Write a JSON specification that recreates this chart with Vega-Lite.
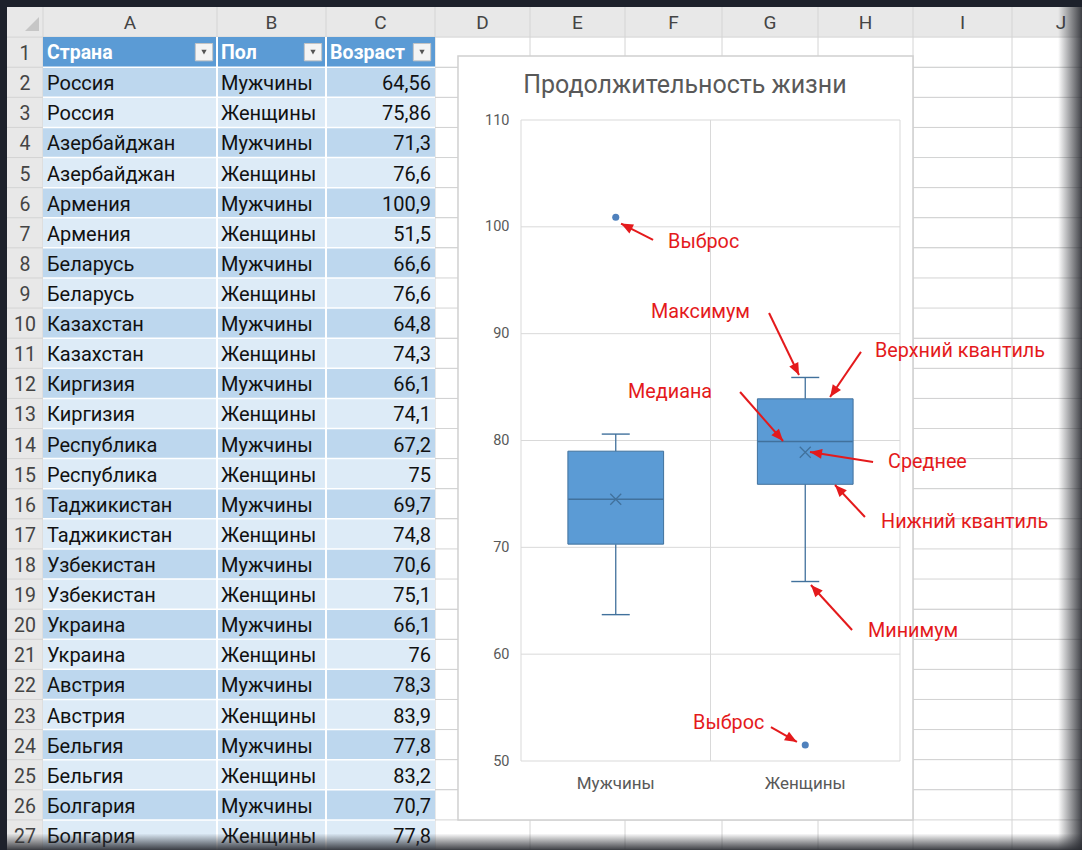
{
  "$schema": "https://vega.github.io/schema/vega-lite/v6.json",
  "width": 379,
  "height": 641,
  "autosize": {"type": "none"},
  "padding": {"left": 521, "top": 120, "right": 182, "bottom": 89},
  "background": "#1d212b",
  "config": {
    "font": "Roboto",
    "view": {"stroke": null},
    "axis": {"domain": false, "ticks": false, "grid": false, "labelFont": "Roboto", "labelColor": "#595959"},
    "locale": {"number": {"decimal": ",", "thousands": " ", "grouping": [3], "currency": ["", " ₽"]}}
  },
  "datasets": {
    "rows": [{"row":0},{"row":1},{"row":2},{"row":3},{"row":4},{"row":5},{"row":6},{"row":7},{"row":8},{"row":9},{"row":10},{"row":11},{"row":12},{"row":13},{"row":14},{"row":15},{"row":16},{"row":17},{"row":18},{"row":19},{"row":20},{"row":21},{"row":22},{"row":23},{"row":24},{"row":25},{"row":26},{"row":27}],
    "cols": [
      {"col":"A","l":1,"r":2,"name":"Страна"},
      {"col":"B","l":2,"r":3,"name":"Пол"},
      {"col":"C","l":3,"r":4,"name":"Возраст"},
      {"col":"D","l":4,"r":5},
      {"col":"E","l":5,"r":6},
      {"col":"F","l":6,"r":7},
      {"col":"G","l":7,"r":8},
      {"col":"H","l":8,"r":9},
      {"col":"I","l":9,"r":10},
      {"col":"J","l":10,"r":11}
    ],
    "table": [
      {"row":2,"Страна":"Россия","Пол":"Мужчины","Возраст":64.56},
      {"row":3,"Страна":"Россия","Пол":"Женщины","Возраст":75.86},
      {"row":4,"Страна":"Азербайджан","Пол":"Мужчины","Возраст":71.3},
      {"row":5,"Страна":"Азербайджан","Пол":"Женщины","Возраст":76.6},
      {"row":6,"Страна":"Армения","Пол":"Мужчины","Возраст":100.9},
      {"row":7,"Страна":"Армения","Пол":"Женщины","Возраст":51.5},
      {"row":8,"Страна":"Беларусь","Пол":"Мужчины","Возраст":66.6},
      {"row":9,"Страна":"Беларусь","Пол":"Женщины","Возраст":76.6},
      {"row":10,"Страна":"Казахстан","Пол":"Мужчины","Возраст":64.8},
      {"row":11,"Страна":"Казахстан","Пол":"Женщины","Возраст":74.3},
      {"row":12,"Страна":"Киргизия","Пол":"Мужчины","Возраст":66.1},
      {"row":13,"Страна":"Киргизия","Пол":"Женщины","Возраст":74.1},
      {"row":14,"Страна":"Республика","Пол":"Мужчины","Возраст":67.2},
      {"row":15,"Страна":"Республика","Пол":"Женщины","Возраст":75},
      {"row":16,"Страна":"Таджикистан","Пол":"Мужчины","Возраст":69.7},
      {"row":17,"Страна":"Таджикистан","Пол":"Женщины","Возраст":74.8},
      {"row":18,"Страна":"Узбекистан","Пол":"Мужчины","Возраст":70.6},
      {"row":19,"Страна":"Узбекистан","Пол":"Женщины","Возраст":75.1},
      {"row":20,"Страна":"Украина","Пол":"Мужчины","Возраст":66.1},
      {"row":21,"Страна":"Украина","Пол":"Женщины","Возраст":76},
      {"row":22,"Страна":"Австрия","Пол":"Мужчины","Возраст":78.3},
      {"row":23,"Страна":"Австрия","Пол":"Женщины","Возраст":83.9},
      {"row":24,"Страна":"Бельгия","Пол":"Мужчины","Возраст":77.8},
      {"row":25,"Страна":"Бельгия","Пол":"Женщины","Возраст":83.2},
      {"row":26,"Страна":"Болгария","Пол":"Мужчины","Возраст":70.7},
      {"row":27,"Страна":"Болгария","Пол":"Женщины","Возраст":77.8}
    ],
    "stats": [
      {"Пол":"Мужчины","min":63.7,"q1":70.3,"median":74.5,"q3":79.0,"max":80.6,"mean":74.5},
      {"Пол":"Женщины","min":66.8,"q1":75.9,"median":79.9,"q3":83.9,"max":85.9,"mean":78.9}
    ],
    "outliers": [
      {"Пол":"Мужчины","Возраст":100.9},
      {"Пол":"Женщины","Возраст":51.5}
    ],
    "ticks": [{"v":50},{"v":60},{"v":70},{"v":80},{"v":90},{"v":100},{"v":110}],
    "annot": [
      {"label":"Выброс","tx":0.776,"ty":98.58,"x":0.697,"y":98.77,"x2":0.528,"y2":100.31},
      {"label":"Максимум","tx":0.686,"ty":92.03,"x":1.309,"y":91.94,"x2":1.467,"y2":86.13},
      {"label":"Верхний квантиль","tx":1.868,"ty":88.38,"x":1.794,"y":88.29,"x2":1.631,"y2":84.07},
      {"label":"Медиана","tx":0.565,"ty":84.54,"x":1.156,"y":84.54,"x2":1.383,"y2":79.95},
      {"label":"Среднее","tx":1.937,"ty":77.99,"x":1.858,"y":77.99,"x2":1.525,"y2":78.93},
      {"label":"Нижний квантиль","tx":1.9,"ty":72.37,"x":1.815,"y":72.84,"x2":1.657,"y2":75.84},
      {"label":"Минимум","tx":1.831,"ty":62.17,"x":1.747,"y":62.26,"x2":1.53,"y2":66.47},
      {"label":"Выброс","tx":0.908,"ty":53.56,"x":1.319,"y":53.18,"x2":1.456,"y2":51.78}
    ],
    "titles": [{"title":"Продолжительность жизни"}]
  },
  "resolve": {"scale": {"x": "independent", "y": "independent"}},
  "layer": [
    {
      "layer": [
        {"data":{"name":"rows"},"mark":{"type":"rect","fill":"#ffffff"},
         "encoding":{"x":{"datum":0,"type":"quantitative","scale":{"domain":[0,1,2,3,4,5,6,7,8,9,10,11],"range":[-514,-478,-304,-195,-86,9,104,201,297,392,491,589],"zero":false,"nice":false},"axis":null},"x2":{"datum":11},
                     "y":{"field":"row","type":"ordinal","scale":{"type":"band","domain":[0,1,2,3,4,5,6,7,8,9,10,11,12,13,14,15,16,17,18,19,20,21,22,23,24,25,26,27],"range":[-113,730],"paddingInner":0,"paddingOuter":0},"axis":null}}},
        {"data":{"name":"rows"},"transform":[{"filter":"datum.row == 0"}],"mark":{"type":"rect","fill":"#e8e8e8"},
         "encoding":{"x":{"datum":0,"type":"quantitative","scale":{"domain":[0,1,2,3,4,5,6,7,8,9,10,11],"range":[-514,-478,-304,-195,-86,9,104,201,297,392,491,589],"zero":false,"nice":false},"axis":null},"x2":{"datum":11},
                     "y":{"field":"row","type":"ordinal","scale":{"type":"band","domain":[0,1,2,3,4,5,6,7,8,9,10,11,12,13,14,15,16,17,18,19,20,21,22,23,24,25,26,27],"range":[-113,730],"paddingInner":0,"paddingOuter":0},"axis":null}}},
        {"data":{"name":"rows"},"transform":[{"filter":"datum.row > 0"}],"mark":{"type":"rect","fill":"#e8e8e8"},
         "encoding":{"x":{"datum":0,"type":"quantitative","scale":{"domain":[0,1,2,3,4,5,6,7,8,9,10,11],"range":[-514,-478,-304,-195,-86,9,104,201,297,392,491,589],"zero":false,"nice":false},"axis":null},"x2":{"datum":1},
                     "y":{"field":"row","type":"ordinal","scale":{"type":"band","domain":[0,1,2,3,4,5,6,7,8,9,10,11,12,13,14,15,16,17,18,19,20,21,22,23,24,25,26,27],"range":[-113,730],"paddingInner":0,"paddingOuter":0},"axis":null}}},
        {"data":{"name":"rows"},"mark":{"type":"rule","stroke":"#d4d4d4","strokeWidth":1},
         "encoding":{"x":{"datum":0,"type":"quantitative","scale":{"domain":[0,1,2,3,4,5,6,7,8,9,10,11],"range":[-514,-478,-304,-195,-86,9,104,201,297,392,491,589],"zero":false,"nice":false},"axis":null},"x2":{"datum":11},
                     "y":{"field":"row","type":"ordinal","bandPosition":1,"scale":{"type":"band","domain":[0,1,2,3,4,5,6,7,8,9,10,11,12,13,14,15,16,17,18,19,20,21,22,23,24,25,26,27],"range":[-113,730],"paddingInner":0,"paddingOuter":0},"axis":null}}},
        {"data":{"name":"cols"},"mark":{"type":"rule","stroke":"#d4d4d4","strokeWidth":1},
         "encoding":{"x":{"field":"l","type":"quantitative","scale":{"domain":[0,1,2,3,4,5,6,7,8,9,10,11],"range":[-514,-478,-304,-195,-86,9,104,201,297,392,491,589],"zero":false,"nice":false},"axis":null},
                     "y":{"datum":0,"type":"ordinal","bandPosition":0,"scale":{"type":"band","domain":[0,1,2,3,4,5,6,7,8,9,10,11,12,13,14,15,16,17,18,19,20,21,22,23,24,25,26,27],"range":[-113,730],"paddingInner":0,"paddingOuter":0},"axis":null},
                     "y2":{"datum":27,"bandPosition":1}}},
        {"data":{"name":"table"},"mark":{"type":"rect"},
         "encoding":{"x":{"datum":1,"type":"quantitative","scale":{"domain":[0,1,2,3,4,5,6,7,8,9,10,11],"range":[-514,-478,-304,-195,-86,9,104,201,297,392,491,589],"zero":false,"nice":false},"axis":null},"x2":{"datum":4},
                     "y":{"field":"row","type":"ordinal","scale":{"type":"band","domain":[0,1,2,3,4,5,6,7,8,9,10,11,12,13,14,15,16,17,18,19,20,21,22,23,24,25,26,27],"range":[-113,730],"paddingInner":0,"paddingOuter":0},"axis":null},
                     "color":{"condition":{"test":"datum.row % 2 == 0","value":"#bdd7ee"},"value":"#ddebf7"}}},
        {"data":{"name":"cols"},"transform":[{"filter":"isValid(datum.name)"}],"mark":{"type":"rect","fill":"#5b9bd5"},
         "encoding":{"x":{"field":"l","type":"quantitative","scale":{"domain":[0,1,2,3,4,5,6,7,8,9,10,11],"range":[-514,-478,-304,-195,-86,9,104,201,297,392,491,589],"zero":false,"nice":false},"axis":null},"x2":{"field":"r"},
                     "y":{"datum":1,"type":"ordinal","scale":{"type":"band","domain":[0,1,2,3,4,5,6,7,8,9,10,11,12,13,14,15,16,17,18,19,20,21,22,23,24,25,26,27],"range":[-113,730],"paddingInner":0,"paddingOuter":0},"axis":null}}},
        {"data":{"name":"cols"},"transform":[{"filter":"datum.col == 'B' || datum.col == 'C'"}],"mark":{"type":"rule","stroke":"#ffffff","strokeWidth":2},
         "encoding":{"x":{"field":"l","type":"quantitative","scale":{"domain":[0,1,2,3,4,5,6,7,8,9,10,11],"range":[-514,-478,-304,-195,-86,9,104,201,297,392,491,589],"zero":false,"nice":false},"axis":null},
                     "y":{"datum":1,"type":"ordinal","bandPosition":0,"scale":{"type":"band","domain":[0,1,2,3,4,5,6,7,8,9,10,11,12,13,14,15,16,17,18,19,20,21,22,23,24,25,26,27],"range":[-113,730],"paddingInner":0,"paddingOuter":0},"axis":null},
                     "y2":{"datum":27,"bandPosition":1}}},
        {"data":{"name":"table"},"mark":{"type":"rule","stroke":"#ffffff","strokeWidth":1.5},
         "encoding":{"x":{"datum":1,"type":"quantitative","scale":{"domain":[0,1,2,3,4,5,6,7,8,9,10,11],"range":[-514,-478,-304,-195,-86,9,104,201,297,392,491,589],"zero":false,"nice":false},"axis":null},"x2":{"datum":4},
                     "y":{"field":"row","type":"ordinal","bandPosition":0,"scale":{"type":"band","domain":[0,1,2,3,4,5,6,7,8,9,10,11,12,13,14,15,16,17,18,19,20,21,22,23,24,25,26,27],"range":[-113,730],"paddingInner":0,"paddingOuter":0},"axis":null}}},
        {"data":{"name":"cols"},"transform":[{"filter":"isValid(datum.name)"}],"mark":{"type":"text","align":"left","baseline":"middle","dx":4,"dy":1,"fontSize":19.5,"fontWeight":"bold","fill":"#ffffff"},
         "encoding":{"x":{"field":"l","type":"quantitative","scale":{"domain":[0,1,2,3,4,5,6,7,8,9,10,11],"range":[-514,-478,-304,-195,-86,9,104,201,297,392,491,589],"zero":false,"nice":false},"axis":null},
                     "y":{"datum":1,"type":"ordinal","scale":{"type":"band","domain":[0,1,2,3,4,5,6,7,8,9,10,11,12,13,14,15,16,17,18,19,20,21,22,23,24,25,26,27],"range":[-113,730],"paddingInner":0,"paddingOuter":0},"axis":null},
                     "text":{"field":"name"}}},
        {"data":{"name":"cols"},"transform":[{"filter":"isValid(datum.name)"}],"mark":{"type":"point","shape":"square","size":300,"filled":true,"fill":"#f4f4f4","stroke":"#c4c4c4","strokeWidth":1,"opacity":1,"xOffset":-13},
         "encoding":{"x":{"field":"r","type":"quantitative","scale":{"domain":[0,1,2,3,4,5,6,7,8,9,10,11],"range":[-514,-478,-304,-195,-86,9,104,201,297,392,491,589],"zero":false,"nice":false},"axis":null},
                     "y":{"datum":1,"type":"ordinal","scale":{"type":"band","domain":[0,1,2,3,4,5,6,7,8,9,10,11,12,13,14,15,16,17,18,19,20,21,22,23,24,25,26,27],"range":[-113,730],"paddingInner":0,"paddingOuter":0},"axis":null}}},
        {"data":{"name":"cols"},"transform":[{"filter":"isValid(datum.name)"}],"mark":{"type":"point","shape":"triangle-down","size":28,"filled":true,"fill":"#555555","strokeWidth":0,"opacity":1,"xOffset":-13},
         "encoding":{"x":{"field":"r","type":"quantitative","scale":{"domain":[0,1,2,3,4,5,6,7,8,9,10,11],"range":[-514,-478,-304,-195,-86,9,104,201,297,392,491,589],"zero":false,"nice":false},"axis":null},
                     "y":{"datum":1,"type":"ordinal","scale":{"type":"band","domain":[0,1,2,3,4,5,6,7,8,9,10,11,12,13,14,15,16,17,18,19,20,21,22,23,24,25,26,27],"range":[-113,730],"paddingInner":0,"paddingOuter":0},"axis":null}}},
        {"data":{"name":"table"},"mark":{"type":"text","align":"left","baseline":"middle","dx":4,"dy":2,"fontSize":20,"fill":"#111111"},
         "encoding":{"x":{"datum":1,"type":"quantitative","scale":{"domain":[0,1,2,3,4,5,6,7,8,9,10,11],"range":[-514,-478,-304,-195,-86,9,104,201,297,392,491,589],"zero":false,"nice":false},"axis":null},
                     "y":{"field":"row","type":"ordinal","scale":{"type":"band","domain":[0,1,2,3,4,5,6,7,8,9,10,11,12,13,14,15,16,17,18,19,20,21,22,23,24,25,26,27],"range":[-113,730],"paddingInner":0,"paddingOuter":0},"axis":null},
                     "text":{"field":"Страна"}}},
        {"data":{"name":"table"},"mark":{"type":"text","align":"left","baseline":"middle","dx":4,"dy":2,"fontSize":20,"fill":"#111111"},
         "encoding":{"x":{"datum":2,"type":"quantitative","scale":{"domain":[0,1,2,3,4,5,6,7,8,9,10,11],"range":[-514,-478,-304,-195,-86,9,104,201,297,392,491,589],"zero":false,"nice":false},"axis":null},
                     "y":{"field":"row","type":"ordinal","scale":{"type":"band","domain":[0,1,2,3,4,5,6,7,8,9,10,11,12,13,14,15,16,17,18,19,20,21,22,23,24,25,26,27],"range":[-113,730],"paddingInner":0,"paddingOuter":0},"axis":null},
                     "text":{"field":"Пол"}}},
        {"data":{"name":"table"},"mark":{"type":"text","align":"right","baseline":"middle","dx":-4,"dy":2,"fontSize":20,"fill":"#111111"},
         "encoding":{"x":{"datum":4,"type":"quantitative","scale":{"domain":[0,1,2,3,4,5,6,7,8,9,10,11],"range":[-514,-478,-304,-195,-86,9,104,201,297,392,491,589],"zero":false,"nice":false},"axis":null},
                     "y":{"field":"row","type":"ordinal","scale":{"type":"band","domain":[0,1,2,3,4,5,6,7,8,9,10,11,12,13,14,15,16,17,18,19,20,21,22,23,24,25,26,27],"range":[-113,730],"paddingInner":0,"paddingOuter":0},"axis":null},
                     "text":{"field":"Возраст","type":"quantitative","format":"~r"}}},
        {"data":{"name":"rows"},"transform":[{"filter":"datum.row > 0"}],"mark":{"type":"text","align":"center","baseline":"middle","dy":2,"fontSize":19.5,"fill":"#444444"},
         "encoding":{"x":{"datum":0.5,"type":"quantitative","scale":{"domain":[0,1,2,3,4,5,6,7,8,9,10,11],"range":[-514,-478,-304,-195,-86,9,104,201,297,392,491,589],"zero":false,"nice":false},"axis":null},
                     "y":{"field":"row","type":"ordinal","scale":{"type":"band","domain":[0,1,2,3,4,5,6,7,8,9,10,11,12,13,14,15,16,17,18,19,20,21,22,23,24,25,26,27],"range":[-113,730],"paddingInner":0,"paddingOuter":0},"axis":null},
                     "text":{"field":"row"}}},
        {"data":{"name":"cols"},"transform":[{"fold":["l","r"],"as":["k","v"]},{"aggregate":[{"op":"mean","field":"v","as":"m"}],"groupby":["col"]}],
         "mark":{"type":"text","align":"center","baseline":"middle","dy":1,"fontSize":19,"fill":"#444444"},
         "encoding":{"x":{"field":"m","type":"quantitative","scale":{"domain":[0,1,2,3,4,5,6,7,8,9,10,11],"range":[-514,-478,-304,-195,-86,9,104,201,297,392,491,589],"zero":false,"nice":false},"axis":null},
                     "y":{"datum":0,"type":"ordinal","scale":{"type":"band","domain":[0,1,2,3,4,5,6,7,8,9,10,11,12,13,14,15,16,17,18,19,20,21,22,23,24,25,26,27],"range":[-113,730],"paddingInner":0,"paddingOuter":0},"axis":null},
                     "text":{"field":"col"}}},
        {"data":{"values":[{"corner":"all"}]},"mark":{"type":"point","shape":"M1,-1L1,1L-1,1Z","size":196,"filled":true,"fill":"#c6c6c6","strokeWidth":0,"opacity":1,"xOffset":7,"yOffset":2},
         "encoding":{"x":{"datum":0.5,"type":"quantitative","scale":{"domain":[0,1,2,3,4,5,6,7,8,9,10,11],"range":[-514,-478,-304,-195,-86,9,104,201,297,392,491,589],"zero":false,"nice":false},"axis":null},
                     "y":{"datum":0,"type":"ordinal","scale":{"type":"band","domain":[0,1,2,3,4,5,6,7,8,9,10,11,12,13,14,15,16,17,18,19,20,21,22,23,24,25,26,27],"range":[-113,730],"paddingInner":0,"paddingOuter":0},"axis":null}}},
        {"data":{"values":[{"chart":"box"}]},"mark":{"type":"rect","fill":"#ffffff","stroke":"#d0d0d0","strokeWidth":1.5},
         "encoding":{"x":{"datum":4.242,"type":"quantitative","scale":{"domain":[0,1,2,3,4,5,6,7,8,9,10,11],"range":[-514,-478,-304,-195,-86,9,104,201,297,392,491,589],"zero":false,"nice":false},"axis":null},"x2":{"datum":9},
                     "y":{"datum":1,"type":"ordinal","bandPosition":0.628,"scale":{"type":"band","domain":[0,1,2,3,4,5,6,7,8,9,10,11,12,13,14,15,16,17,18,19,20,21,22,23,24,25,26,27],"range":[-113,730],"paddingInner":0,"paddingOuter":0},"axis":null},
                     "y2":{"datum":27,"bandPosition":0}}},
        {"data":{"values":[{"edge":"right"}]},"mark":{"type":"rect","fill":{"gradient":"linear","x1":0,"y1":0,"x2":1,"y2":0,"stops":[{"offset":0,"color":"rgba(40,42,48,0)"},{"offset":1,"color":"rgba(40,42,48,0.95)"}]}},
         "encoding":{"x":{"datum":10.47,"type":"quantitative","scale":{"domain":[0,1,2,3,4,5,6,7,8,9,10,11],"range":[-514,-478,-304,-195,-86,9,104,201,297,392,491,589],"zero":false,"nice":false},"axis":null},"x2":{"datum":10.73},
                     "y":{"datum":0,"type":"ordinal","bandPosition":0,"scale":{"type":"band","domain":[0,1,2,3,4,5,6,7,8,9,10,11,12,13,14,15,16,17,18,19,20,21,22,23,24,25,26,27],"range":[-113,730],"paddingInner":0,"paddingOuter":0},"axis":null},
                     "y2":{"datum":27,"bandPosition":1}}},
        {"data":{"values":[{"edge":"bottom"}]},"mark":{"type":"rect","fill":{"gradient":"linear","x1":0,"y1":0,"x2":0,"y2":1,"stops":[{"offset":0,"color":"rgba(40,42,48,0)"},{"offset":1,"color":"rgba(40,42,48,0.9)"}]}},
         "encoding":{"x":{"datum":0,"type":"quantitative","scale":{"domain":[0,1,2,3,4,5,6,7,8,9,10,11],"range":[-514,-478,-304,-195,-86,9,104,201,297,392,491,589],"zero":false,"nice":false},"axis":null},"x2":{"datum":10.73},
                     "y":{"datum":27,"type":"ordinal","bandPosition":0.45,"scale":{"type":"band","domain":[0,1,2,3,4,5,6,7,8,9,10,11,12,13,14,15,16,17,18,19,20,21,22,23,24,25,26,27],"range":[-113,730],"paddingInner":0,"paddingOuter":0},"axis":null},
                     "y2":{"datum":27,"bandPosition":1}}}
      ]
    },
    {
      "layer": [
        {"data":{"name":"ticks"},"mark":{"type":"rule","stroke":"#d9d9d9","strokeWidth":1},
         "encoding":{"y":{"field":"v","type":"quantitative","title":null,"scale":{"domain":[50,110],"zero":false,"nice":false},"axis":{"orient":"left","zindex":2,"values":[50,60,70,80,90,100,110],"domain":false,"ticks":false,"grid":false,"labelFontSize":14.5,"labelPadding":12,"labelColor":"#595959"}}}},
        {"data":{"name":"stats"},"mark":{"type":"rule","stroke":"#d9d9d9","strokeWidth":1},
         "encoding":{"x":{"field":"Пол","type":"nominal","title":null,"bandPosition":0,"scale":{"domain":["Мужчины","Женщины"],"paddingInner":0,"paddingOuter":0},"axis":{"orient":"bottom","zindex":2,"domain":false,"ticks":false,"grid":false,"labelAngle":0,"labelFontSize":17,"labelPadding":14,"labelColor":"#595959"}}}},
        {"data":{"name":"stats"},"transform":[{"filter":"datum['Пол'] == 'Женщины'"}],"mark":{"type":"rule","stroke":"#d9d9d9","strokeWidth":1},
         "encoding":{"x":{"field":"Пол","type":"nominal","title":null,"bandPosition":1,"scale":{"domain":["Мужчины","Женщины"],"paddingInner":0,"paddingOuter":0}}}},
        {"data":{"name":"stats"},"mark":{"type":"rule","stroke":"#41719c","strokeWidth":1.3},
         "encoding":{"x":{"field":"Пол","type":"nominal","title":null,"scale":{"domain":["Мужчины","Женщины"],"paddingInner":0,"paddingOuter":0}},
                     "y":{"field":"min","type":"quantitative","title":null,"scale":{"domain":[50,110],"zero":false,"nice":false}},"y2":{"field":"q1"}}},
        {"data":{"name":"stats"},"mark":{"type":"rule","stroke":"#41719c","strokeWidth":1.3},
         "encoding":{"x":{"field":"Пол","type":"nominal","title":null,"scale":{"domain":["Мужчины","Женщины"],"paddingInner":0,"paddingOuter":0}},
                     "y":{"field":"q3","type":"quantitative","title":null,"scale":{"domain":[50,110],"zero":false,"nice":false}},"y2":{"field":"max"}}},
        {"data":{"name":"stats"},"mark":{"type":"tick","color":"#41719c","size":28,"thickness":1.4,"opacity":1},
         "encoding":{"x":{"field":"Пол","type":"nominal","title":null,"scale":{"domain":["Мужчины","Женщины"],"paddingInner":0,"paddingOuter":0}},
                     "y":{"field":"min","type":"quantitative","title":null,"scale":{"domain":[50,110],"zero":false,"nice":false}}}},
        {"data":{"name":"stats"},"mark":{"type":"tick","color":"#41719c","size":28,"thickness":1.4,"opacity":1},
         "encoding":{"x":{"field":"Пол","type":"nominal","title":null,"scale":{"domain":["Мужчины","Женщины"],"paddingInner":0,"paddingOuter":0}},
                     "y":{"field":"max","type":"quantitative","title":null,"scale":{"domain":[50,110],"zero":false,"nice":false}}}},
        {"data":{"name":"stats"},"mark":{"type":"bar","fill":"#5b9bd5","stroke":"#41719c","strokeWidth":1,"width":{"band":0.505}},
         "encoding":{"x":{"field":"Пол","type":"nominal","title":null,"scale":{"domain":["Мужчины","Женщины"],"paddingInner":0,"paddingOuter":0}},
                     "y":{"field":"q1","type":"quantitative","title":null,"scale":{"domain":[50,110],"zero":false,"nice":false}},"y2":{"field":"q3"}}},
        {"data":{"name":"stats"},"mark":{"type":"tick","color":"#41719c","size":95,"thickness":1.4,"opacity":1},
         "encoding":{"x":{"field":"Пол","type":"nominal","title":null,"scale":{"domain":["Мужчины","Женщины"],"paddingInner":0,"paddingOuter":0}},
                     "y":{"field":"median","type":"quantitative","title":null,"scale":{"domain":[50,110],"zero":false,"nice":false}}}},
        {"data":{"name":"stats"},"mark":{"type":"point","shape":"M-1,-1L1,1M-1,1L1,-1","size":120,"filled":false,"stroke":"#41719c","strokeWidth":1.3,"opacity":1},
         "encoding":{"x":{"field":"Пол","type":"nominal","title":null,"scale":{"domain":["Мужчины","Женщины"],"paddingInner":0,"paddingOuter":0}},
                     "y":{"field":"mean","type":"quantitative","title":null,"scale":{"domain":[50,110],"zero":false,"nice":false}}}},
        {"data":{"name":"outliers"},"mark":{"type":"point","shape":"circle","size":50,"filled":true,"fill":"#4f81bd","strokeWidth":0,"opacity":1},
         "encoding":{"x":{"field":"Пол","type":"nominal","title":null,"scale":{"domain":["Мужчины","Женщины"],"paddingInner":0,"paddingOuter":0}},
                     "y":{"field":"Возраст","type":"quantitative","title":null,"scale":{"domain":[50,110],"zero":false,"nice":false}}}}
      ]
    },
    {
      "layer": [
        {"data":{"name":"annot"},"mark":{"type":"rule","stroke":"#e41a1c","strokeWidth":2},
         "encoding":{"x":{"field":"x","type":"quantitative","scale":{"domain":[0,2],"zero":false,"nice":false},"axis":null},"x2":{"field":"x2"},
                     "y":{"field":"y","type":"quantitative","scale":{"domain":[50,110],"zero":false,"nice":false},"axis":null},"y2":{"field":"y2"}}},
        {"data":{"name":"annot"},"transform":[{"calculate":"atan2((datum.x2 - datum.x) * 189.5, (datum.y2 - datum.y) * 10.683) * 180 / PI","as":"angle"}],
         "mark":{"type":"point","shape":"M0,0L0.5,1.2L-0.5,1.2Z","size":400,"filled":true,"fill":"#e41a1c","strokeWidth":0,"opacity":1},
         "encoding":{"x":{"field":"x2","type":"quantitative","scale":{"domain":[0,2],"zero":false,"nice":false},"axis":null},
                     "y":{"field":"y2","type":"quantitative","scale":{"domain":[50,110],"zero":false,"nice":false},"axis":null},
                     "angle":{"field":"angle","type":"quantitative","scale":null}}},
        {"data":{"name":"annot"},"mark":{"type":"text","align":"left","baseline":"middle","fontSize":19.8,"fill":"#e41a1c"},
         "encoding":{"x":{"field":"tx","type":"quantitative","scale":{"domain":[0,2],"zero":false,"nice":false},"axis":null},
                     "y":{"field":"ty","type":"quantitative","scale":{"domain":[50,110],"zero":false,"nice":false},"axis":null},
                     "text":{"field":"label"}}},
        {"data":{"name":"titles"},"mark":{"type":"text","align":"center","baseline":"middle","fontSize":25,"fill":"#595959"},
         "encoding":{"x":{"datum":0.865,"type":"quantitative","scale":{"domain":[0,2],"zero":false,"nice":false},"axis":null},
                     "y":{"datum":113.3,"type":"quantitative","scale":{"domain":[50,110],"zero":false,"nice":false},"axis":null},
                     "text":{"field":"title"}}}
      ]
    }
  ]
}
